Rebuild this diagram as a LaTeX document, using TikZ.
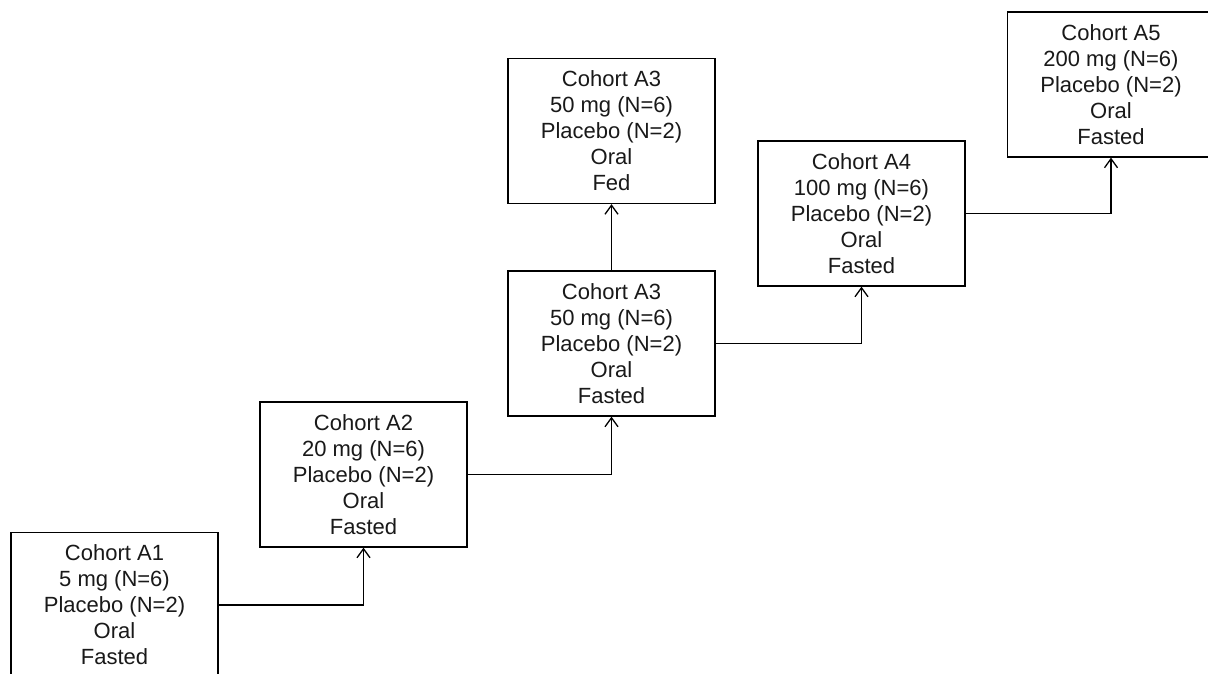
\documentclass[tikz,border=0pt]{standalone}
\usepackage{fontspec}
\setmainfont{Liberation Sans}
\usetikzlibrary{arrows.meta}
\begin{document}
\begin{tikzpicture}[x=1pt,y=1pt,
  cohort/.style={draw=black,line width=1.3pt,fill=white,minimum width=207pt,minimum height=145pt,inner sep=0pt,align=center,font=\fontsize{22}{26}\selectfont,text=black!90},
  conn/.style={draw=black,line width=1.3pt,-{Straight Barb[length=9pt,width=13pt,line width=1.3pt]}}]
\useasboundingbox (0,0) rectangle (1208,673);
\node[cohort] (a1) at (114.5,68) {Cohort A1\\5 mg (N=6)\\Placebo (N=2)\\Oral\\Fasted};
\node[cohort] (a2) at (363.5,198.5) {Cohort A2\\20 mg (N=6)\\Placebo (N=2)\\Oral\\Fasted};
\node[cohort] (a3) at (611.5,329.5) {Cohort A3\\50 mg (N=6)\\Placebo (N=2)\\Oral\\Fasted};
\node[cohort] (a3f) at (611.5,542) {Cohort A3\\50 mg (N=6)\\Placebo (N=2)\\Oral\\Fed};
\node[cohort] (a4) at (861.5,459.5) {Cohort A4\\100 mg (N=6)\\Placebo (N=2)\\Oral\\Fasted};
\node[cohort] (a5) at (1111,588.5) {Cohort A5\\200 mg (N=6)\\Placebo (N=2)\\Oral\\Fasted};
\draw[conn] (a1.east) -| (a2.south);
\draw[conn] (a2.east) -| (a3.south);
\draw[conn] (a3.north) -- (a3f.south);
\draw[conn] (a3.east) -| (a4.south);
\draw[conn] (a4.east) -| (a5.south);
\end{tikzpicture}
\end{document}
